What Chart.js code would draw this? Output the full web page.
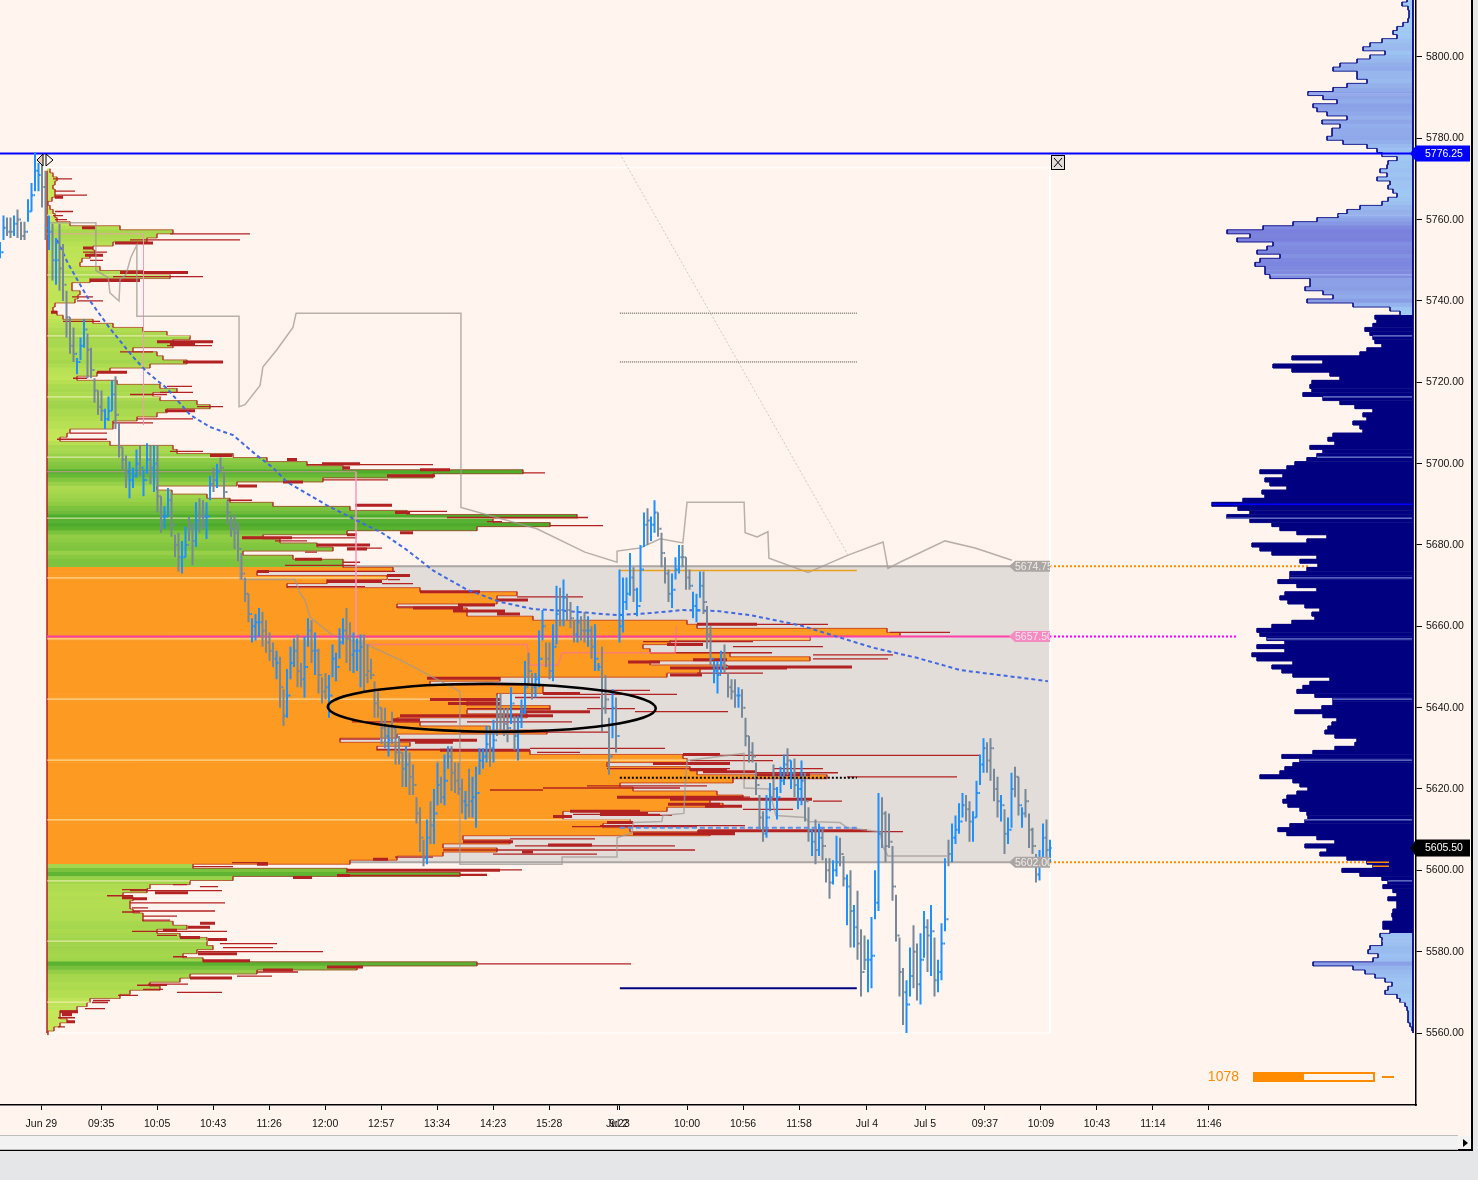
<!DOCTYPE html>
<html>
<head>
<meta charset="utf-8">
<title>Market profile chart</title>
<script src="https://cdn.jsdelivr.net/npm/chart.js@4/dist/chart.umd.js"></script>
<style>
  html, body { margin: 0; padding: 0; background: #e5e6e8; }
  #panel { position: absolute; left: 0; top: 0; width: 1471px; height: 1149px; background: #fff5ee;
           border-right: 2px solid #000; border-bottom: 2px solid #000; }
  #scroll { position: absolute; left: 0; top: 1135px; width: 1458px; height: 13px; background: #f2f2f2;
            border-top: 1px solid #bdbdbd; border-bottom: 1px solid #bdbdbd; }
  #arrow { position: absolute; left: 1459px; top: 1136px; width: 12px; height: 13px; background: #f2f2f2; }
  #arrow:after { content: ''; position: absolute; left: 4px; top: 3px; border-left: 5px solid #000;
                 border-top: 4px solid transparent; border-bottom: 4px solid transparent; }
  canvas { position: absolute; left: 0; top: 0; }
</style>
</head>
<body>
<div id="panel"></div>
<div id="scroll"></div>
<div id="arrow"></div>
<canvas id="chart" width="1478" height="1180" style="width:1478px;height:1180px"></canvas>
<script>
// price bars, one entry per 3.5 px slot
const barHigh = [
  5754.5,5761,5760.5,5760.5,5761,5762.5,5759.5,5759.5,5765,5769,
  5776.5,5774,5774,5772,5761,5759,5755.5,5759,5754,5742.5,
  5736,5733.5,5726,5731,5735.5,5732,5728.5,5721,5718,5718,
  5713.5,5716.5,5720.5,5721.5,5710,5704,5702,5700.5,5699,5703.5,
  5704.5,5698.5,5705,5704.5,5704.5,5704.5,5692,5689.5,5694,5693,
  5682.5,5683,5681,5684.5,5687,5685.5,5690.5,5691.5,5691,5690.5,
  5697,5699,5700,5701.5,5698,5691,5687,5687.5,5685.5,5678,
  5672,5668,5662,5663,5664.5,5663.5,5661.5,5658.5,5656,5654,
  5652.5,5644.5,5649.5,5655,5657,5658,5651,5657.5,5662,5661.5,
  5658.5,5654.5,5647.5,5648.5,5648,5655.5,5653.5,5659.5,5662,5664.5,
  5661,5658.5,5657,5658,5658,5655.5,5652,5646.5,5644,5640,
  5640,5635.5,5639,5635,5633,5629,5630.5,5629,5626,5618,
  5615.5,5607.5,5612.5,5617,5620,5626.5,5623,5628.5,5630.5,5630.5,
  5626.5,5626.5,5622.5,5619.5,5625,5623,5625.5,5630,5630,5635.5,
  5635.5,5637,5643,5643.5,5640,5640,5645,5638,5638,5642,
  5651.5,5653.5,5648.5,5648.5,5659,5664,5656,5656,5660.5,5670,
  5669.5,5671.5,5668,5666,5661.5,5665,5662.5,5663.5,5662.5,5660,
  5660.5,5651,5655,5648,5637.5,5644.5,5642.5,5674,5672,5672,
  5678,5674.5,5669.5,5680,5688,5689,5687,5691,5688,5683,
  5677,5674,5673,5677,5680,5680,5677,5674,5668.5,5668,
  5673.5,5673.5,5665,5660,5651.5,5651.5,5654,5655.5,5648.5,5647,
  5647,5645,5644.5,5637.5,5633,5631.5,5626.5,5618.5,5614.5,5618.5,
  5621.5,5626,5620.5,5625.5,5628.5,5630,5627,5627.5,5622.5,5627,
  5624,5615.5,5610,5612.5,5611.5,5610.5,5603,5603,5602.5,5608.5,
  5608,5603.5,5599,5600,5591.5,5595,5585.5,5584,5583,5588.5,
  5600,5619,5618,5614.5,5614,5606,5594,5583.5,5576,5573,
  5581,5586.5,5582,5584.5,5590,5588,5591.5,5583.5,5578,5587,
  5603,5607.5,5611.5,5613.5,5616.5,5619,5618.5,5617,5614.5,5622,
  5628.5,5632.5,5631.5,5632.5,5625,5623,5618.5,5615,5613,5624,
  5625.5,5623,5615.5,5620,5614,5610.5,5604,5605,5611.5,5612.5,
  5607.5
];
const barLow = [
  5750.5,5755,5756,5755.5,5756,5755.5,5755,5755,5759.5,5762,
  5767,5767,5763,5755,5752.5,5745,5744,5742.5,5740,5731,
  5727,5725,5722,5725.5,5728.5,5721,5721,5715,5712,5710.5,
  5708.5,5710.5,5713,5708.5,5701.5,5698.5,5694,5691.5,5694,5696.5,
  5697,5692,5697.5,5695,5693,5688,5683,5684,5687,5682,
  5677,5673.5,5673,5677,5681,5675,5679.5,5683,5684,5681.5,
  5691,5693,5694,5698,5691.5,5685,5682,5679,5676,5671.5,
  5666,5661,5656,5656.5,5657.5,5655,5653.5,5651.5,5650,5647,
  5640,5635.5,5637.5,5647,5650,5645,5645,5642.5,5655,5651,
  5648,5643.5,5641,5642,5637.5,5647.5,5646.5,5652,5655.5,5651,
  5649,5648.5,5649,5645,5644,5646,5647,5637.5,5637.5,5631,
  5630,5628,5631,5626,5626,5620.5,5620.5,5618.5,5618.5,5611.5,
  5604.5,5601,5601.5,5606.5,5606.5,5616,5616.5,5616,5625,5619.5,
  5619,5618.5,5614,5612.5,5613,5613,5610.5,5623.5,5625,5626.5,
  5625.5,5626.5,5633,5634.5,5633,5631.5,5636,5629.5,5627,5635,
  5638.5,5646,5642,5642.5,5645,5656.5,5650,5647,5646.5,5655.5,
  5660,5660,5661.5,5659.5,5656,5656,5656.5,5656,5655,5652,
  5649,5649,5634,5638.5,5623.5,5632.5,5629,5656,5658.5,5664,
  5667.5,5666,5662.5,5666,5679.5,5680,5681,5683,5682,5674.5,
  5670.5,5666,5664.5,5671.5,5673,5674.5,5669,5669,5662,5661,
  5667,5663,5654.5,5650.5,5646,5643.5,5648.5,5648.5,5642.5,5642,
  5640,5640,5637.5,5630.5,5626.5,5626.5,5618.5,5610,5607,5608,
  5614.5,5618,5612.5,5619,5621,5623.5,5620,5618,5615,5616,
  5612,5607,5603.5,5601.5,5603.5,5602.5,5597,5593,5596.5,5598.5,
  5601,5596,5586.5,5581,5581,5578,5569,5575.5,5570,5571,
  5588,5590,5605.5,5602,5605.5,5592.5,5582.5,5569,5562,5560,
  5569,5571,5568,5567,5578.5,5575,5574,5569,5570,5573,
  5585,5601,5602,5606.5,5609,5613,5612,5607,5607,5613,
  5621,5624,5624,5622,5617,5613,5612,5604,5606.5,5610.5,
  5618,5613.5,5610.5,5613,5605.5,5604,5597,5597.5,5602.5,5603,
  5602
];
const barClose = [
  5752,5758,5757,5757,5759,5760,5756,5757,5762,5766,
  5772,5771,5768,5758,5757,5750,5750,5748,5744,5736,
  5729,5727,5725,5729,5733,5728,5723,5718,5714,5713,
  5711,5713,5717,5712,5704,5701,5698,5696,5697,5700,
  5699,5696,5701,5699,5700,5692,5687,5687,5691,5685,
  5680,5677,5677,5680,5684,5681,5686,5687,5687,5687,
  5695,5696,5698,5699,5693,5688,5684,5683,5679,5673,
  5668,5663,5660,5661,5661,5659,5656,5654,5652,5651,
  5645,5638,5643,5651,5654,5649,5647,5650,5659,5654,
  5654,5648,5644,5645,5643,5652,5650,5656,5659,5657,
  5653,5654,5654,5655,5648,5649,5648,5641,5640,5635,
  5633,5632,5635,5629,5629,5625,5626,5623,5621,5614,
  5608,5603,5608,5611,5614,5621,5618,5622,5628,5624,
  5622,5620,5617,5616,5617,5618,5619,5627,5628,5631,
  5630,5632,5638,5638,5636,5635,5641,5633,5634,5639,
  5645,5649,5645,5647,5652,5660,5652,5649,5655,5663,
  5664,5667,5664,5662,5658,5661,5659,5659,5659,5655,
  5652,5650,5640,5642,5628,5640,5633,5660,5666,5668,
  5672,5669,5665,5674,5685,5686,5685,5688,5684,5678,
  5673,5668,5669,5674,5677,5677,5672,5670,5665,5664,
  5670,5666,5658,5652,5649,5648,5651,5650,5645,5644,
  5643,5643,5640,5633,5629,5628,5621,5613,5609,5613,
  5618,5620,5618,5622,5626,5627,5624,5621,5620,5622,
  5617,5610,5607,5605,5608,5606,5600,5597,5600,5602,
  5604,5598,5596,5590,5586,5582,5575,5578,5578,5579,
  5592,5609,5614,5606,5607,5596,5584,5575,5570,5567,
  5574,5580,5572,5578,5586,5584,5585,5573,5575,5582,
  5588,5604,5608,5610,5612,5616,5615,5612,5613,5619,
  5626,5630,5627,5630,5620,5617,5616,5609,5610,5620,
  5623,5616,5614,5617,5610,5606,5599,5602,5608,5605,
  5605.5
];
// u = blue bar, d = grey bar, ten per string
const barDir = [
  'uudduddduu','uuddududdd','dduuuddddd','uuudddduuu','duududduud','dduudduddu','ududdddddd',
  'dduuuddddu','dduuudduud','uddduuuuud','duuudddddd','dudddduddd','dduduuduud','ddduduuuuu',
  'dudddduduu','udduuudduu','dudddudd'+'ud','uuddduduuu','uduuuduudd','dduuuddduu','uddduuuddd',
  'dudddddddu','uduuududuu','ddududdduu','ddududdduu','uudddddddu','udduududuu','uduuuudduu',
  'uuddddud'+'uu','ddudddduud','u'
].join('');

// left volume profile, one row per point from leftTopPrice downward
const leftTopPrice = 5772;
const leftFill = [
  3,6,10,8,6,8,8,5,1,3,
  6,8,10,23,73,126,110,100,66,46,
  48,43,35,33,53,96,123,43,25,25,
  33,31,28,8,6,10,16,46,66,96,
  120,143,126,126,86,110,116,140,103,63,
  50,30,70,113,130,106,113,150,163,120,
  110,90,66,66,23,20,13,63,126,130,
  186,220,260,296,476,386,276,190,110,125,
  160,183,226,303,360,530,446,503,430,300,
  216,233,270,286,196,246,296,296,346,210,
  340,280,240,373,470,450,450,350,420,420,
  486,640,650,840,853,763,623,596,603,683,
  763,603,680,653,620,453,383,496,496,450,
  450,420,503,420,480,350,373,443,500,350,
  293,363,330,483,636,640,560,643,650,780,
  686,573,586,670,696,663,676,620,516,516,
  583,556,583,663,416,463,396,450,396,350,
  303,146,300,413,186,143,103,100,76,86,
  83,83,86,96,96,126,140,110,133,160,
  160,166,150,136,156,430,310,210,143,133,
  103,113,83,73,43,40,30,13,13,20,
  13,7,1
];
const valueAreaHigh = 5674.75;
const valueAreaLow = 5602;
const pocPrice = 5657.5;

// red tails of the left profile: [price, from, to]
const redThin = [
  [5770,6,25],[5767,8,28],[5766,8,40],[5762,8,26],[5761,6,16],[5760,8,20],[5756.5,123,203],[5755,83,193],
  [5752,36,60],[5750,43,56],[5746,66,156],[5741,25,46],[5740,30,56],[5735,16,53],[5729,120,165],[5727.5,73,106],
  [5721,26,40],[5719,120,145],[5717.5,113,146],[5717,83,120],[5714,150,176],[5711,90,146],[5710,66,106],
  [5707.5,23,60],[5706,10,60],[5703,123,156],[5699.75,260,386],[5697.75,476,498],[5696,276,341],[5691,180,205],
  [5688.25,360,400],[5686.75,400,541],[5685.75,440,455],[5684.75,503,556],[5681.75,195,310],[5681,228,260],
  [5679.25,300,335],[5678.25,258,270],[5675.75,296,313],[5675,238,308],[5673.5,210,348],[5671.5,341,353],
  [5670.5,335,366],[5669.75,240,318],[5667.25,470,536],[5664.75,350,413],[5660.5,710,781],[5658.5,843,903],
  [5656.25,596,706],[5655,686,776],[5653.5,603,725],[5653,766,846],[5652,766,841],[5648.5,650,716],
  [5644.25,553,603],[5643.25,533,630],[5642.5,468,553],[5639.75,420,503],[5639.75,540,588],[5639,588,681],
  [5636.5,420,525],[5636.5,305,410],[5634,413,563],[5632.25,293,333],[5630,553,618],[5630,483,616],
  [5629.75,330,406],[5629,490,533],[5628.25,673,933],[5627,643,726],[5625,560,683],[5625,726,776],
  [5624,710,791],[5623,800,910],[5620.75,540,660],[5620.25,496,633],[5620.25,553,631],[5619.75,443,496],
  [5618,570,703],[5617,766,795],[5615,696,746],[5613.75,526,613],[5613.5,553,625],[5611,553,698],
  [5610.75,525,650],[5609.5,820,856],[5607.75,463,548],[5606,468,626],[5606,553,628],[5605,396,648],
  [5605,553,648],[5604,446,550],[5603.25,348,386],[5601.9,185,221],[5600.9,146,186],[5600.1,300,475],
  [5599,413,440],[5598.75,300,440],[5596.5,126,140],[5596,153,171],[5595.25,75,101],[5595,83,175],
  [5593.75,60,86],[5592,83,178],[5590.75,85,101],[5590,86,168],[5589.75,75,93],[5588.75,96,130],
  [5587.75,95,123],[5585,85,180],[5584,110,130],[5582,173,230],[5581,176,226],[5580,151,276],
  [5578.75,126,140],[5577,430,584],[5575,210,251],[5574,190,225],[5572,101,141],[5571.75,90,120],
  [5570.75,96,116],[5570,130,175],[5569.25,71,91],[5568,46,63],[5567.5,45,61],[5566,38,58],[5563.75,11,28],
  [5561.5,11,18]
];
const redBlobs = [
  [5765.5,8,16],[5758,35,48],[5754.25,68,106],[5753,36,46],[5751.25,38,56],[5747,73,141],[5745,43,93],
  [5737.25,4,10],[5730,110,166],[5729.5,123,148],[5725,136,176],[5722.5,50,80],[5713,118,148],[5702,163,185],
  [5701,240,250],[5700,275,313],[5699,296,303],[5698.5,373,403],[5697,340,388],[5695.5,236,256],[5694.5,191,210],
  [5689.75,308,345],[5688,348,363],[5683,353,366],[5682.5,300,310],[5681.75,195,245],[5680,270,323],[5679,300,320],
  [5676.5,248,275],[5673.5,210,222],[5672.5,340,363],[5671,280,335],[5668.5,373,433],[5666.5,450,481],
  [5665.25,411,448],[5664.5,366,416],[5663.75,406,458],[5663,450,473],[5660.5,650,710],[5655.5,620,656],
  [5651.75,646,680],[5651.25,581,613],[5650,680,805],[5649.75,623,740],[5648,623,655],[5647.25,380,453],
  [5643.5,496,533],[5642,383,453],[5641,401,453],[5639,473,543],[5638,353,506],[5637,346,373],[5632,353,430],
  [5631.5,368,406],[5629.5,393,483],[5628.5,636,673],[5626.25,606,683],[5624.75,643,680],[5624.25,656,710],
  [5623.5,710,763],[5618,570,696],[5617.5,623,765],[5616.25,621,673],[5615.75,658,695],[5614.5,523,593],
  [5614,553,601],[5613.25,506,525],[5611.75,560,586],[5609.75,651,820],[5609.5,650,686],[5609,586,688],
  [5607,416,466],[5606.25,501,545],[5604.5,475,486],[5602.75,326,341],[5601.5,210,221],[5600,300,453],
  [5598.75,290,303],[5598.25,246,265],[5594.5,108,141],[5593.25,75,86],[5593,86,100],[5587,153,168],
  [5586,141,163],[5585.25,116,130],[5583.5,133,153],[5583,161,180],[5579.5,151,190],[5577.75,156,203],
  [5576.25,280,316],[5575.5,216,246],[5573.5,143,185],[5565.25,13,31],[5564.5,15,25],[5562.75,20,28]
];

// right volume profile, one row per point from rightTopPrice downward
const rightTopPrice = 5814;
const rightVolume = [
  6,11,5,4,4,5,10,16,20,16,
  31,43,50,28,43,56,73,80,56,56,
  46,66,80,105,90,76,100,96,86,66,
  91,73,81,81,86,70,46,36,31,16,
  25,26,33,26,36,23,25,20,16,25,
  31,53,66,75,96,120,150,186,163,176,
  140,146,156,133,153,158,148,148,143,103,
  103,108,90,80,106,60,23,13,38,36,
  40,48,43,40,38,31,46,53,121,90,
  140,121,83,73,101,103,101,110,90,73,
  58,40,50,46,60,53,50,80,85,78,
  103,90,96,106,118,126,153,130,148,143,
  126,151,148,170,201,175,163,186,163,141,
  133,116,86,106,161,153,141,96,113,95,
  106,123,123,135,116,96,128,133,125,108,
  93,101,98,121,141,156,153,146,128,156,
  128,161,156,120,141,131,120,83,103,110,
  116,98,80,80,91,118,90,76,81,85,
  88,78,56,58,78,100,131,113,120,128,
  133,153,120,113,105,116,126,130,125,113,
  106,105,108,123,135,126,96,78,108,86,
  93,66,46,40,71,53,31,25,30,20,
  16,25,16,16,20,21,20,30,30,23,
  33,31,31,43,45,35,40,100,60,48,
  38,28,21,25,28,16,13,8,6,5,
  5,5,3,1
];
const rightNavyTop = 5736.5;
const rightNavyBottom = 5584.5;
const rightBluePrice = 5690;

// levels of the faint lines through both profiles
const gridLevels = [5790.9,5775.9,5761.1,5746.4,5731.4,5716.4,5701.6,5686.6,5671.9,5656.9,5642.1,5627.1,5612.4,5597.4,5582.6,5567.6];

// overlay lines: bar slot / price pairs
const stepAX = [14.3,27.4,27.4,30.9,31.4,34,34.3,36,37.4,39.1,39.1,68.3,68.3,70,74.3,75.1,79.1,83.7,84.6,131.7,131.7,153.4,167.1,176.3,176.3,182.9,188.6,195.1,195.7,196.3,212.6,212.9,216.3,219.4,219.7,230.9,242.3,252.3,253.7,257.1,270,278.6,289.1];
const stepAY = [5759.25,5759.25,5747.5,5745.75,5742,5740,5745.25,5746.5,5750.75,5753.75,5736.25,5736.25,5714,5714.5,5719.25,5723.75,5728,5733.5,5737,5737,5689.25,5684,5678.25,5675.75,5678.5,5679.25,5681.5,5680.5,5685.5,5690.5,5690.5,5683,5682,5683.25,5676.75,5673.25,5677.5,5680.75,5674.25,5675.75,5681,5679.25,5676.25];
const stepBX = [68.6,68.6,84.3,85.7,87.1,88.6,95.1,104.9,114.3,131.4,131.4,160.6,160.6,176.3,176.3,180.6,180.9,189.1,189.4,195.4,195.7,196.3,212.6,212.6,219.7,221.7,230,230.9,240,242,251.4,252.3,253.7,270.6];
const stepBY = [5676.25,5671.5,5671.5,5668.25,5666.5,5662.25,5657.75,5655.5,5651.75,5644,5601.5,5601.5,5603.25,5603.25,5608,5609.25,5611.75,5612,5613.5,5614,5620,5627,5628.75,5620.25,5620,5613.5,5613,5612,5611.75,5610.5,5609.5,5605.75,5603.5,5603.5];
const avgX = [16.3,19.4,24.9,31.4,38,42,47.7,54.3,60,66.6,73.4,78,82,93.4,102,109.1,116.3,123.7,133.4,142.9,152.3,162,176.3,185.7,195.1,204.9,214.3,228.6,249.4,262,274.3,299.4];
const avgY = [5755,5749.25,5741,5733.25,5726.25,5722.5,5718.5,5712,5709,5707,5702,5699,5695.5,5689.75,5686,5683,5678.75,5673.75,5669,5666,5664.25,5663.75,5662.75,5663.25,5664,5663.75,5662.75,5660.25,5654.75,5652.25,5649.25,5646.5];
const pinkX = [104.9,150.6,151.4,159.4,160.6,192.9,193.3];
const pinkY = [5655.5,5655.5,5650.5,5650.5,5653.5,5653.5,5660];

// axis ticks
const priceTicks = [5800,5780,5760,5740,5720,5700,5680,5660,5640,5620,5600,5580,5560];
const timeTickSlots = [11.8,28.9,44.9,60.9,76.9,92.9,108.9,124.9,140.9,156.9,176.3,177,196.3,212.3,228.3,247.7,264.3,281.4,297.4,313.4,329.4,345.4];
const timeTickLabels = ['Jun 29','09:35','10:05','10:43','11:26','12:00','12:57','13:34','14:23','15:28','Jul 2','9:23','10:00','10:56','11:58','Jul 4','Jul 5','09:37','10:09','10:43','11:14','11:46'];

const lastTrade = 5605.5;
const sessionHigh = 5776.25;
const boxStart = 13.4;
const boxEnd = 300;
const refStart = 177.1;
const refEnd = 244.8;

const gap = { x: null, y: null };

function segs(list) {
  const out = [];
  list.forEach(s => out.push({ x: s[0], y: s[1] }, { x: s[2], y: s[3] }, gap));
  return out;
}
function xy(xs, ys) {
  return xs.map((x, i) => ({ x, y: ys[i] }));
}
function mix(a, b, t) {
  const c = a.map((v, i) => Math.round(v + (b[i] - v) * t));
  return 'rgb(' + c.join(',') + ')';
}

let nextOrder = 100;
function line(data, color, width, extra) {
  return Object.assign({
    type: 'line', data, borderColor: color, borderWidth: width, pointRadius: 0,
    fill: false, tension: 0, spanGaps: false, order: nextOrder--
  }, extra || {});
}

// ---- left profile rows
const leftPrices = leftFill.map((v, i) => leftTopPrice - i);
const leftColors = leftFill.map((v, i) => {
  const p = leftPrices[i];
  if (p < valueAreaHigh && p >= valueAreaLow) return '#fd9a22';
  return mix([200, 232, 90], [78, 172, 44], Math.min(1, v / 480));
});
const leftRows = segs(leftFill.map((v, i) => [0, leftPrices[i], v, leftPrices[i]]));
const leftEdge = [];
leftFill.forEach((v, i) => leftEdge.push({ x: v, y: leftPrices[i] + 0.5 }, { x: v, y: leftPrices[i] - 0.5 }));

// ---- right profile rows
const rightPrices = rightVolume.map((v, i) => rightTopPrice - i);
const rightColors = rightVolume.map((v, i) => {
  const p = rightPrices[i];
  if (p <= rightNavyTop && p >= rightNavyBottom) return '#000080';
  return mix([164, 208, 246], [122, 128, 220], Math.min(1, v / 170));
});
const rightRows = segs(rightVolume.map((v, i) => [0, rightPrices[i], v, rightPrices[i]]));
const rightEdge = [];
rightVolume.forEach((v, i) => rightEdge.push({ x: v, y: rightPrices[i] + 0.5 }, { x: v, y: rightPrices[i] - 0.5 }));

function leftAt(p) { return leftFill[Math.round(leftTopPrice - p)] || 0; }
function rightAt(p) { return rightVolume[Math.round(rightTopPrice - p)] || 0; }

// ---- price bars
const blueBars = [], greyBars = [];
barHigh.forEach((h, i) => {
  const target = barDir[i] === 'u' ? blueBars : greyBars;
  const open = i > 0 ? barClose[i - 1] : barClose[i];
  target.push({ x: i, y: barLow[i] }, { x: i, y: h }, gap);
  target.push({ x: i - 0.45, y: open }, { x: i, y: open }, gap);
  target.push({ x: i, y: barClose[i] }, { x: i + 0.45, y: barClose[i] }, gap);
});

const datasets = [
  // grey value area box
  line(xy([boxStart, boxEnd], [valueAreaHigh, valueAreaHigh]), '#aba6a3', 2, {
    fill: { value: valueAreaLow }, backgroundColor: '#e3ddd9'
  }),
  line(xy([boxStart, boxEnd], [valueAreaLow, valueAreaLow]), '#aba6a3', 2),
  // white frame
  line(segs([[boxStart, 5772.75, boxEnd, 5772.75], [boxEnd, 5772.75, boxEnd, 5560], [boxStart, 5560, boxEnd, 5560]]), '#ffffff', 1),
  // left profile
  line(leftRows, '#fd9a22', 4.6, {
    xAxisID: 'xLeft',
    segment: { borderColor: c => leftColors[Math.floor(c.p0DataIndex / 3)] }
  }),
  line(leftEdge, 'rgba(178,34,34,0.8)', 0.8, { xAxisID: 'xLeft' }),
  line(segs([[0, 5772, 0, 5560]]), '#b22222', 1.5, { xAxisID: 'xLeft' }),
  line(segs(gridLevels.filter(p => p <= 5772).map(p => [0, p, leftAt(p), p])), 'rgba(255,244,200,0.85)', 1, { xAxisID: 'xLeft' }),
  line(segs(redThin.map(r => [r[1], r[0], r[2], r[0]])), '#b22222', 1.3, { xAxisID: 'xLeft' }),
  line(segs(redBlobs.map(r => [r[1], r[0], r[2], r[0]])), '#b22222', 3, { xAxisID: 'xLeft' }),
  line(segs([[0, 5756.5, 96.5, 5756.5], [96.5, 5756.5, 96.5, 5709.5], [0, 5698, 309, 5698], [309, 5698, 309, 5657.5]]), 'rgba(250,150,190,0.75)', 1, { xAxisID: 'xLeft' }),
  // grey stepped lines
  line(xy(stepAX, stepAY), 'rgba(160,152,148,0.75)', 1.5),
  line(xy(stepBX, stepBY), 'rgba(160,152,148,0.75)', 1.5),
  line(xy(pinkX, pinkY), 'rgba(250,120,130,0.85)', 1.5),
  // reference levels
  line(segs([[refStart, sessionHigh, 242.3, 5677.5]]), '#cfc8c4', 1, { borderDash: [2, 2] }),
  line(segs([[refStart, 5737, refEnd, 5737]]), '#444444', 1, { borderDash: [1, 1] }),
  line(segs([[refStart, 5725, refEnd, 5725]]), '#444444', 1, { borderDash: [1, 1] }),
  line(segs([[refStart, 5673.75, refEnd, 5673.75]]), '#e8a020', 1.5),
  line(segs([[refStart, 5571, refEnd, 5571]]), '#000080', 2),
  line(segs([[boxStart, pocPrice, boxEnd, pocPrice]]), '#ff3fa8', 2),
  line(segs([[boxEnd, valueAreaHigh, 374, valueAreaHigh]]), '#ff8c00', 2, { borderDash: [2, 2] }),
  line(segs([[boxEnd, pocPrice, 353.5, pocPrice]]), '#ff00ff', 2, { borderDash: [2, 2] }),
  line(segs([[boxEnd, valueAreaLow, 392.5, valueAreaLow]]), '#ff8c00', 2, { borderDash: [2, 2] }),
  // right profile
  line(rightRows, '#000080', 4.6, {
    xAxisID: 'xRight',
    segment: { borderColor: c => rightColors[Math.floor(c.p0DataIndex / 3)] }
  }),
  line(rightEdge, '#000080', 0.8, { xAxisID: 'xRight' }),
  line(segs(gridLevels.map(p => [0, p, rightAt(p), p])), 'rgba(170,190,245,0.85)', 1, { xAxisID: 'xRight' }),
  line(segs([[0, rightBluePrice, rightAt(rightBluePrice), rightBluePrice]]), '#0000ff', 1.5, { xAxisID: 'xRight' }),
  line(segs([[0, 5814, 0, 5560]]), '#000080', 1, { xAxisID: 'xRight' }),
  line(segs([[24, 5602, 46, 5602], [24, 5601, 40, 5601]]), '#ff8c00', 1.5, { xAxisID: 'xRight' }),
  // session high
  line(segs([[0, sessionHigh, 404.6, sessionHigh]]), '#0000ff', 2),
  // moving average
  line(xy(avgX, avgY), '#4169e1', 2, { borderDash: [4, 3] }),
  // price bars
  line(greyBars, '#778899', 2),
  line(blueBars, '#1e90ff', 2),
  // dotted levels over the bars
  line(segs([[refStart, 5622.75, refEnd, 5622.75]]), '#000000', 2, { borderDash: [2, 2] }),
  line(segs([[refStart, 5610.5, refEnd, 5610.5]]), '#5b90e8', 2, { borderDash: [5, 3] })
];

function tag(ctx, right, left, y, h, fill, text, color, font, textX) {
  ctx.beginPath();
  ctx.moveTo(left, y);
  ctx.lineTo(left + 6, y - h / 2);
  ctx.lineTo(right, y - h / 2);
  ctx.lineTo(right, y + h / 2);
  ctx.lineTo(left + 6, y + h / 2);
  ctx.closePath();
  ctx.fillStyle = fill;
  ctx.fill();
  ctx.fillStyle = color;
  ctx.font = font;
  ctx.textAlign = 'left';
  ctx.textBaseline = 'middle';
  ctx.fillText(text, textX, y + 0.5);
}

const overlays = {
  id: 'overlays',
  afterDatasetsDraw(chart) {
    const ctx = chart.ctx, x = chart.scales.x, y = chart.scales.y;
    ctx.save();
    // ellipse marking the balance area
    ctx.beginPath();
    ctx.ellipse(x.getPixelForValue(140.5), y.getPixelForValue(5640), 164, 24, 0.005, 0, Math.PI * 2);
    ctx.strokeStyle = '#000';
    ctx.lineWidth = 2.5;
    ctx.stroke();

    // level tags on the box edge
    const small = '10.5px "Liberation Sans", Arial, sans-serif';
    tag(ctx, 1050, 1009, y.getPixelForValue(valueAreaHigh), 11, '#aba6a3', valueAreaHigh.toFixed(2), '#f2ece8', small, 1015);
    tag(ctx, 1050, 1009, y.getPixelForValue(pocPrice), 11, '#f48cc0', pocPrice.toFixed(2), '#fbe2ee', small, 1015);
    tag(ctx, 1050, 1009, y.getPixelForValue(valueAreaLow), 11, '#aba6a3', valueAreaLow.toFixed(2), '#f2ece8', small, 1015);

    // price tags on the axis
    const bold = '10.5px "Liberation Sans", Arial, sans-serif';
    tag(ctx, 1470, 1410, y.getPixelForValue(sessionHigh), 16, '#0000ff', sessionHigh.toFixed(2), '#fff', bold, 1425);
    tag(ctx, 1470, 1410, y.getPixelForValue(lastTrade), 17, '#000000', lastTrade.toFixed(2), '#fff', bold, 1425);

    // drag handle on the profile start
    ctx.lineWidth = 1;
    ctx.strokeStyle = '#000';
    ctx.fillStyle = '#e3cdb8';
    ctx.beginPath(); ctx.moveTo(37, 160); ctx.lineTo(43, 154); ctx.lineTo(43, 166); ctx.closePath(); ctx.fill(); ctx.stroke();
    ctx.fillStyle = '#fff5ee';
    ctx.beginPath(); ctx.moveTo(53, 160); ctx.lineTo(46, 154); ctx.lineTo(46, 166); ctx.closePath(); ctx.fill(); ctx.stroke();

    // close box
    ctx.fillStyle = '#e3ddd9';
    ctx.fillRect(1051.5, 155.5, 13, 14);
    ctx.strokeRect(1051.5, 155.5, 13, 14);
    ctx.beginPath();
    ctx.moveTo(1054, 158); ctx.lineTo(1062, 167);
    ctx.moveTo(1062, 158); ctx.lineTo(1054, 167);
    ctx.stroke();

    // counter at bottom right
    ctx.font = '14px "Liberation Sans", Arial, sans-serif';
    ctx.fillStyle = '#ff8c00';
    ctx.textAlign = 'right';
    ctx.textBaseline = 'middle';
    ctx.fillText('1078', 1239, 1077.5);
    ctx.fillRect(1253, 1072, 51, 10);
    ctx.strokeStyle = '#ff8c00';
    ctx.lineWidth = 2;
    ctx.strokeRect(1254, 1073, 120, 8);
    ctx.beginPath(); ctx.moveTo(1382, 1077); ctx.lineTo(1394, 1077); ctx.stroke();
    ctx.restore();
  }
};

new Chart(document.getElementById('chart').getContext('2d'), {
  type: 'line',
  data: { datasets },
  plugins: [overlays],
  options: {
    responsive: false,
    animation: false,
    devicePixelRatio: 1,
    layout: { padding: 0, autoPadding: false },
    events: [],
    plugins: { legend: { display: false }, tooltip: { enabled: false } },
    scales: {
      x: {
        type: 'linear',
        position: 'bottom',
        min: 0,
        max: 1416 / 3.5,
        afterFit: s => { s.height = 75; s.paddingLeft = 0; s.paddingRight = 0; },
        afterBuildTicks: s => { s.ticks = timeTickSlots.map(v => ({ value: v })); },
        border: { color: '#000', width: 1.5 },
        grid: { drawOnChartArea: false, color: '#000', tickLength: 5 },
        ticks: {
          autoSkip: false, maxRotation: 0, minRotation: 0, padding: 8, color: '#111',
          font: { family: '"Liberation Sans", Arial, sans-serif', size: 10.5 },
          callback: (v, i) => timeTickLabels[i]
        }
      },
      xLeft: { type: 'linear', display: false, position: 'bottom', min: -47, max: 1369 },
      xRight: { type: 'linear', display: false, position: 'bottom', min: -3, max: 1413, reverse: true },
      y: {
        type: 'linear',
        position: 'right',
        min: 5542.3,
        max: 5814,
        afterFit: s => { s.width = 62; s.paddingTop = 0; s.paddingBottom = 0; },
        afterBuildTicks: s => { s.ticks = priceTicks.map(v => ({ value: v })); },
        border: { color: '#000', width: 1.5 },
        grid: { drawOnChartArea: false, color: '#000', tickLength: 6 },
        ticks: {
          padding: 4, color: '#111',
          font: { family: '"Liberation Sans", Arial, sans-serif', size: 10.5 },
          callback: v => v.toFixed(2)
        }
      }
    }
  }
});
</script>
</body>
</html>
